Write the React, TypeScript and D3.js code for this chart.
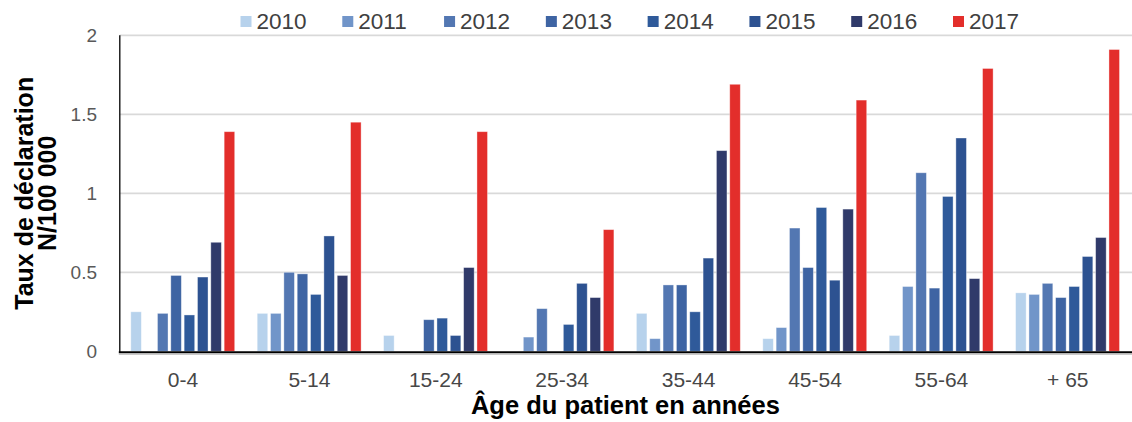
import React from "react";
import * as d3 from "d3";

const categories = ["0-4", "5-14", "15-24", "25-34", "35-44", "45-54", "55-64", "+ 65"];
const years = ["2010", "2011", "2012", "2013", "2014", "2015", "2016", "2017"];
const colors = ["#b7d2ec", "#7195c9", "#5377b2", "#3e64a3", "#2f5a9a", "#2d5291", "#303a6a", "#e32e2b"];

// values[yearIndex][categoryIndex]
const v2010 = [0.25, 0.24, 0.1, null, 0.24, 0.08, 0.1, 0.37];
const v2011 = [null, 0.24, null, 0.09, 0.08, 0.15, 0.41, 0.36];
const v2012 = [0.24, 0.5, null, 0.27, 0.42, 0.78, 1.13, 0.43];
const v2013 = [0.48, 0.49, 0.2, null, 0.42, 0.53, 0.4, 0.34];
const v2014 = [0.23, 0.36, 0.21, 0.17, 0.25, 0.91, 0.98, 0.41];
const v2015 = [0.47, 0.73, 0.1, 0.43, 0.59, 0.45, 1.35, 0.6];
const v2016 = [0.69, 0.48, 0.53, 0.34, 1.27, 0.9, 0.46, 0.72];
const v2017 = [1.39, 1.45, 1.39, 0.77, 1.69, 1.59, 1.79, 1.91];
const series = [v2010, v2011, v2012, v2013, v2014, v2015, v2016, v2017];

const yTicks = [0, 0.5, 1, 1.5, 2];
const yTickLabels = ["0", "0.5", "1", "1.5", "2"];

export default function App() {
  const W = 1132, H = 422;
  const left = 119.8, right = 1131, top = 35.3, bottom = 351.3;

  const x0 = d3.scaleBand<string>().domain(categories).range([left, right]).padding(0);
  const bw = x0.bandwidth();
  const x1 = d3.scaleBand<string>().domain(years).range([11, bw - 11.5]).paddingInner(0.21).paddingOuter(0);
  const y = d3.scaleLinear().domain([0, 2]).range([bottom, top]);

  const legendX = d3.scaleLinear().domain([0, 7]).range([240.5, 953]);

  return (
    <svg width={W} height={H} style={{ position: "absolute", left: 0, top: 0, background: "#fff" }}
      fontFamily="'Liberation Sans', Arial, sans-serif">
      {/* gridlines */}
      {yTicks.filter(t => t > 0).map(t => (
        <line key={t} x1={left} x2={W} y1={y(t)} y2={y(t)} stroke="#d9d9d9" strokeWidth={1.7} />
      ))}
      {/* bars */}
      {series.map((vals, si) => (
        <g key={years[si]}>
          {vals.map((v, ci) => v == null ? null : (
            <rect key={ci}
              x={(x0(categories[ci]) as number) + (x1(years[si]) as number)}
              y={y(v)}
              width={x1.bandwidth()}
              height={y(0) - y(v)}
              fill={colors[si]}
              stroke="#ffffff" strokeOpacity={0.45} strokeWidth={0.8} />
          ))}
        </g>
      ))}
      {/* axes */}
      <line x1={left} x2={left} y1={top} y2={bottom + 1} stroke="#000" strokeWidth={1.3} />
      <line x1={left - 1} x2={W} y1={bottom + 1} y2={bottom + 1} stroke="#000" strokeWidth={2} />
      <line x1={left - 1} x2={W} y1={bottom + 2.8} y2={bottom + 2.8} stroke="#a6a6a6" strokeWidth={1} />
      {/* y tick labels */}
      {yTicks.map((t, i) => (
        <text key={t} x={97} y={y(t)} dy="0.36em" textAnchor="end" fontSize={19} fill="#595959">{yTickLabels[i]}</text>
      ))}
      {/* x tick labels */}
      {categories.map(c => (
        <text key={c} x={(x0(c) as number) + bw / 2} y={386.7} textAnchor="middle" fontSize={21} fill="#474747">{c}</text>
      ))}
      {/* axis titles */}
      <text x={(left + right) / 2} y={414.3} textAnchor="middle" fontSize={25.5} fontWeight="bold" fill="#000">Âge du patient en années</text>
      <g transform={`translate(0, ${(top + bottom) / 2}) rotate(-90)`}>
        <text x={0} y={33} textAnchor="middle" fontSize={25} fontWeight="bold" fill="#000">Taux de déclaration</text>
        <text x={0} y={55.5} textAnchor="middle" fontSize={25} fontWeight="bold" fill="#000">N/100 000</text>
      </g>
      {/* legend */}
      {years.map((yr, i) => (
        <g key={yr}>
          <rect x={legendX(i)} y={16} width={11} height={11} fill={colors[i]} />
          <text x={legendX(i) + 16} y={29} fontSize={22.5} fill="#404040">{yr}</text>
        </g>
      ))}
    </svg>
  );
}
